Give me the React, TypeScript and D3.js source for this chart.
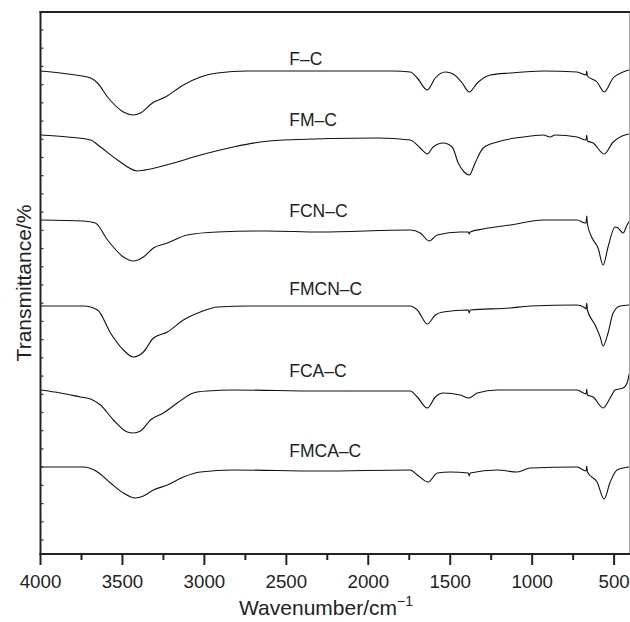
import React from "react";
import * as d3 from "d3";

// spectra: [wavenumber (cm-1), transmittance (a.u., offset per curve)]
const fC = [
  [4000, 96.6], [3835, 96.0], [3695, 95.2], [3652, 94.2], [3591, 91.4], [3494, 88.4],
  [3433, 87.8], [3390, 88.2], [3317, 90.2], [3238, 91.4], [3128, 93.8], [3024, 95.4],
  [2921, 96.2], [2738, 96.6], [1848, 96.6], [1744, 96.4], [1701, 95.2], [1640, 92.8],
  [1591, 95.2], [1530, 96.4], [1482, 96.0], [1427, 94.2], [1384, 92.4], [1335, 94.2],
  [1256, 95.8], [1134, 96.2], [933, 96.6], [726, 96.4], [671, 95.8], [667, 96.6],
  [663, 95.6], [604, 94.4], [561, 92.4], [506, 95.2], [445, 96.4], [409, 96.8],
];

const fmC = [
  [4000, 83.8], [3835, 83.4], [3695, 82.8], [3634, 81.4], [3530, 78.8], [3409, 76.6],
  [3329, 77.0], [3189, 78.2], [3024, 79.8], [2823, 81.4], [2659, 82.4], [2518, 82.8],
  [1945, 83.2], [1744, 82.8], [1683, 81.2], [1640, 80.0], [1604, 81.4], [1543, 82.2],
  [1488, 81.4], [1451, 78.2], [1415, 76.4], [1384, 75.8], [1348, 78.2], [1299, 81.2],
  [1213, 82.4], [1055, 83.4], [933, 83.8], [890, 83.4], [860, 83.8], [726, 83.4],
  [671, 82.8], [667, 83.8], [663, 82.6], [628, 82.2], [561, 80.0], [506, 82.4],
  [451, 83.6], [409, 84.0],
];

const fcnC = [
  [4000, 66.8], [3738, 66.6], [3665, 66.2], [3591, 62.8], [3494, 59.4], [3433, 58.6],
  [3372, 59.4], [3311, 61.2], [3226, 62.2], [3104, 63.8], [2921, 64.4], [2616, 64.6],
  [2293, 64.4], [1744, 64.8], [1683, 64.2], [1628, 62.6], [1579, 63.8], [1439, 64.4],
  [1390, 64.4], [1384, 64.0], [1378, 64.4], [1299, 65.0], [1134, 65.8], [933, 66.8],
  [726, 66.8], [677, 66.2], [671, 66.2], [667, 67.6], [663, 66.0], [634, 63.2],
  [598, 61.2], [567, 57.8], [537, 61.4], [494, 65.4], [476, 65.2], [445, 64.2],
  [421, 65.8], [402, 66.8],
];

const fmcnC = [
  [4000, 49.6], [3738, 49.6], [3652, 48.8], [3573, 44.2], [3494, 40.8], [3433, 39.4],
  [3372, 40.4], [3311, 43.2], [3226, 44.4], [3128, 46.8], [3024, 48.4], [2921, 49.4],
  [2720, 49.6], [1744, 49.6], [1701, 48.8], [1640, 46.0], [1591, 47.8], [1543, 48.4],
  [1390, 48.8], [1384, 48.2], [1378, 48.8], [1134, 49.2], [1012, 49.6], [726, 49.8],
  [677, 49.2], [671, 49.0], [667, 50.2], [663, 48.8], [616, 45.8], [585, 43.4],
  [567, 41.6], [537, 44.2], [506, 48.2], [463, 49.6], [409, 49.8],
];

const fcaC = [
  [4000, 32.8], [3878, 32.2], [3756, 31.4], [3695, 31.0], [3634, 29.8], [3555, 26.8],
  [3470, 24.4], [3433, 24.2], [3390, 24.6], [3329, 26.8], [3250, 28.2], [3165, 30.2],
  [3067, 32.2], [2982, 32.6], [2823, 32.8], [2293, 32.6], [1744, 32.6], [1701, 31.4],
  [1640, 29.2], [1591, 31.4], [1543, 32.2], [1439, 31.8], [1384, 31.2], [1335, 32.2],
  [1213, 32.8], [726, 32.8], [671, 32.0], [667, 33.0], [663, 31.8], [628, 31.4],
  [567, 29.2], [524, 31.2], [494, 32.8], [445, 33.2], [421, 34.2], [409, 35.8],
  [402, 36.8],
];

const fmcaC = [
  [4000, 17.4], [3738, 17.4], [3652, 16.4], [3573, 14.2], [3494, 12.2], [3421, 11.2],
  [3372, 11.6], [3311, 12.8], [3226, 13.8], [3128, 15.4], [3024, 16.4], [2823, 16.8],
  [2293, 16.6], [1744, 16.8], [1701, 15.8], [1634, 14.4], [1579, 16.2], [1500, 16.4],
  [1390, 16.2], [1384, 15.6], [1378, 16.2], [1213, 16.8], [1091, 16.4], [1012, 17.2],
  [726, 17.4], [671, 16.6], [667, 17.6], [663, 16.4], [604, 14.4], [561, 11.0],
  [524, 14.4], [482, 16.8], [409, 17.4],
];

const spectra = [fC, fmC, fcnC, fmcnC, fcaC, fmcaC];
const seriesNames = ["F\u2013C", "FM\u2013C", "FCN\u2013C", "FMCN\u2013C", "FCA\u2013C", "FMCA\u2013C"];
// label baseline levels (same units as the spectra)
const labelLevels = [97.8, 85.6, 67.4, 51.8, 35.4, 19.4];
const labelWave = 2482;

const xMajor = d3.range(4000, 399, -500);
const xMinor = d3.range(3750, 400, -500);
const yMinor = d3.range(29).map(i => 2.8 + i * 3.643);

const font = "'Liberation Sans', Arial, Helvetica, sans-serif";

export default function App() {
  const width = 630, height = 622;
  const left = 40.5, right = 630.5, top = 12, bottom = 554;

  const x = d3.scaleLinear().domain([4000, 400]).range([left, right]);
  const y = d3.scaleLinear().domain([0, 108.4]).range([bottom, top]);

  const line = d3.line<number[]>()
    .x(d => x(d[0]))
    .y(d => y(d[1]))
    .curve(d3.curveMonotoneX);

  return (
    <svg width={width} height={height} style={{ position: "absolute", left: 0, top: 0, background: "#fff" }}
         fontFamily={font}>
      {/* spectra */}
      <g fill="none" stroke="#111" strokeWidth={1.1}>
        {spectra.map((s, i) => <path key={i} d={line(s) || ""} />)}
      </g>

      {/* curve labels */}
      {seriesNames.map((n, i) => (
        <text key={n} x={x(labelWave)} y={y(labelLevels[i])} fontSize={17.5} fill="#222">{n}</text>
      ))}

      {/* frame */}
      <line x1={right - 1} x2={right - 1} y1={top} y2={bottom} stroke="#aaa" strokeWidth={1} />
      <line x1={left - 1} x2={right} y1={top} y2={top} stroke="#222" strokeWidth={2} />
      <line x1={left} x2={left} y1={top - 1} y2={bottom + 1} stroke="#222" strokeWidth={2} />
      <line x1={left - 1} x2={right} y1={bottom} y2={bottom} stroke="#222" strokeWidth={2} />

      {/* y minor ticks (inward) */}
      {yMinor.map((t, i) => (
        <line key={i} x1={left} x2={left + 3} y1={y(t)} y2={y(t)} stroke="#333" strokeWidth={1.2} />
      ))}

      {/* x ticks */}
      {xMinor.map(t => (
        <line key={"m" + t} x1={x(t)} x2={x(t)} y1={bottom} y2={bottom + 6} stroke="#222" strokeWidth={2} />
      ))}
      {xMajor.map(t => (
        <g key={t}>
          <line x1={x(t)} x2={x(t)} y1={bottom} y2={bottom + 11} stroke="#222" strokeWidth={2} />
          <text x={x(t)} y={588} textAnchor="middle" fontSize={18.7} fill="#222">{t}</text>
        </g>
      ))}

      {/* axis titles */}
      <text x={326} y={615} textAnchor="middle" fontSize={21} fill="#222">
        Wavenumber/cm<tspan dy={-9} fontSize={14}>{"\u22121"}</tspan>
      </text>
      <text transform={`translate(31,${(top + bottom) / 2}) rotate(-90)`} textAnchor="middle" fontSize={21} fill="#222">
        Transmittance/%
      </text>
    </svg>
  );
}
